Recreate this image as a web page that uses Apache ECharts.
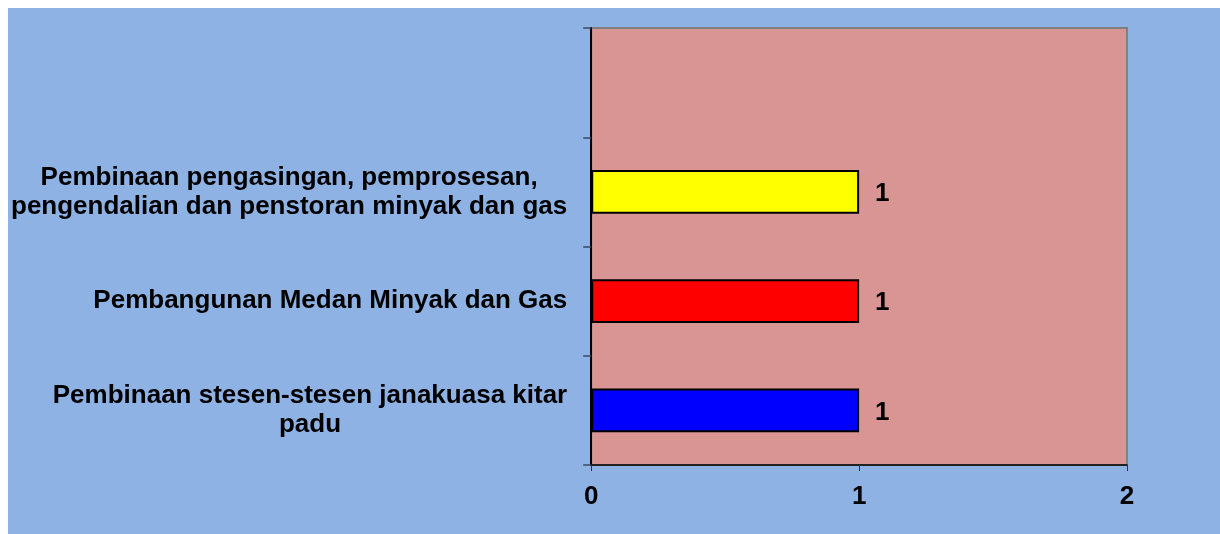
<!DOCTYPE html>
<html>
<head>
<meta charset="utf-8">
<script src="https://cdn.jsdelivr.net/npm/echarts@6/dist/echarts.min.js"></script>
<style>
html,body{margin:0;padding:0;background:#fff;width:1220px;height:534px;overflow:hidden;}
#chart{position:absolute;left:8px;top:8px;width:1212px;height:526px;}
</style>
</head>
<body>
<div id="chart"></div>
<script>
// kategori (dari bawah ke atas)
const categories = [
    'Pembinaan stesen-stesen janakuasa kitar\npadu',
    'Pembangunan Medan Minyak dan Gas',
    'Pembinaan pengasingan, pemprosesan,\npengendalian dan penstoran minyak dan gas',
    ''
];
const values = [1, 1, 1, null];
const barColors = ['#0000FF', '#FF0000', '#FFFF00', '#FFFFFF'];
const xTicks = [0, 1, 2];

const chart = echarts.init(document.getElementById('chart'));

// label baris-baris di tengah, blok rapat kanan
function wrapLabel(txt){
    if(!txt) return '';
    return txt.split('\n').map(l => '{c|' + l + '}').join('\n');
}

const FONT = 'Liberation Sans, Arial';

const option = {
    backgroundColor: '#8EB2E4',
    animation: false,
    grid: {
        left: 582, top: 20, right: 93, bottom: 69,
        show: true,
        backgroundColor: '#D99594',
        borderColor: '#808080',
        borderWidth: 2
    },
    xAxis: {
        type: 'value',
        min: xTicks[0],
        max: xTicks[xTicks.length - 1],
        interval: 1,
        splitLine: { show: false },
        axisLine: { show: true, lineStyle: { color: '#000', width: 1.5 } },
        axisTick: { show: true, length: 6, lineStyle: { color: '#333' } },
        axisLabel: {
            margin: 19,
            color: '#000',
            fontFamily: FONT,
            fontWeight: 'bold',
            fontSize: 26
        }
    },
    yAxis: {
        type: 'category',
        data: categories,
        axisLine: { show: true, lineStyle: { color: '#000', width: 2 } },
        axisTick: { show: true, length: 8, lineStyle: { color: '#3a4a60', width: 1.5 } },
        axisLabel: {
            margin: 24,
            color: '#000',
            fontFamily: FONT,
            fontWeight: 'bold',
            fontSize: 26,
            lineHeight: 29,
            formatter: wrapLabel,
            rich: {
                c: {
                    align: 'center',
                    color: '#000',
                    fontFamily: FONT,
                    fontWeight: 'bold',
                    fontSize: 26,
                    lineHeight: 29
                }
            }
        }
    },
    series: [{
        type: 'bar',
        barWidth: '40%',
        data: values.map((v, i) => ({
            value: v,
            itemStyle: { color: barColors[i] }
        })),
        itemStyle: { borderColor: '#000', borderWidth: 2 },
        label: {
            show: true,
            position: 'right',
            distance: 16,
            offset: [0, 2],
            color: '#000',
            fontFamily: FONT,
            fontWeight: 'bold',
            fontSize: 26
        }
    }]
};
chart.setOption(option);
</script>
</body>
</html>
